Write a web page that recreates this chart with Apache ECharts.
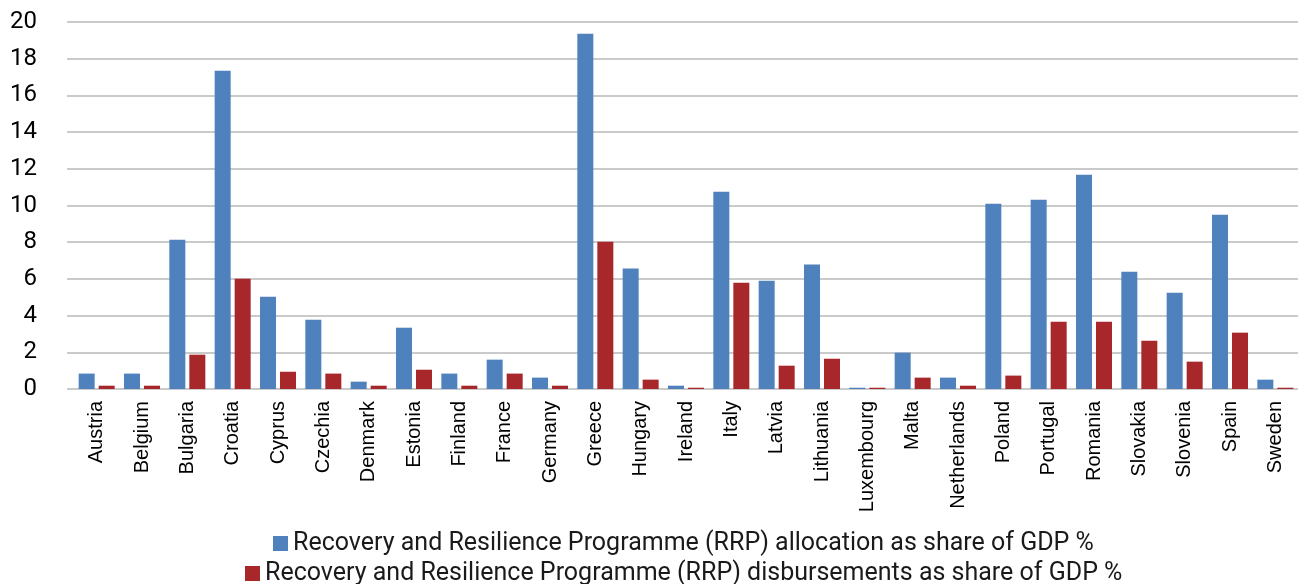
<!DOCTYPE html>
<html>
<head>
<meta charset="utf-8">
<script src="https://cdn.jsdelivr.net/npm/echarts@6/dist/echarts.min.js"></script>
<style>
html,body{margin:0;padding:0;background:#fff;}
#chart{width:1298px;height:584px;}
</style>
</head>
<body>
<div id="chart"></div>
<script>
const categories = ["Austria","Belgium","Bulgaria","Croatia","Cyprus","Czechia","Denmark","Estonia","Finland","France","Germany","Greece","Hungary","Ireland","Italy","Latvia","Lithuania","Luxembourg","Malta","Netherlands","Poland","Portugal","Romania","Slovakia","Slovenia","Spain","Sweden"];
const allocation = [0.84,0.84,8.14,17.35,5.03,3.78,0.40,3.34,0.84,1.60,0.62,19.36,6.56,0.18,10.75,5.90,6.78,0.07,1.98,0.62,10.10,10.32,11.68,6.39,5.25,9.50,0.51];
const disbursements = [0.18,0.18,1.87,6.01,0.94,0.84,0.18,1.05,0.18,0.84,0.18,8.03,0.51,0.07,5.79,1.27,1.65,0.07,0.62,0.18,0.73,3.67,3.67,2.63,1.49,3.07,0.07];
const seriesNames = ["Recovery and Resilience Programme (RRP) allocation as share of GDP %","Recovery and Resilience Programme (RRP) disbursements as share of GDP %"];
const yMin = 0, yMax = 20, yStep = 2;

const chart = echarts.init(document.getElementById('chart'), null, {renderer:'canvas'});
const font = 'Roboto';
const gridLine = {show:true, lineStyle:{color:'#b9b9b9', width:1.5}};
const legendText = {fontFamily:font, fontSize:25, color:'#1a1a1a'};
chart.setOption({
  animation:false,
  textStyle:{fontFamily:font},
  grid:[
    {left:67, right:0, top:22, height:367, containLabel:false},
    {left:74, width:1232, top:22, height:367, containLabel:false}
  ],
  legend:[
    {data:[seriesNames[0]], left:273, top:531, padding:0, itemWidth:15, itemHeight:15,
     icon:'rect', textStyle:legendText, selectedMode:false},
    {data:[seriesNames[1]], left:245, top:561, padding:0, itemWidth:15, itemHeight:15,
     icon:'rect', textStyle:legendText, selectedMode:false}
  ],
  xAxis:[
    {type:'value', gridIndex:0, show:false, min:0, max:1},
    {type:'category', gridIndex:1, data:categories,
     axisLine:{show:false}, axisTick:{show:false},
     axisLabel:{rotate:90, interval:0, margin:12, fontFamily:'Liberation Sans', fontSize:20, color:'#000'}}
  ],
  yAxis:[
    {type:'value', gridIndex:0, min:yMin, max:yMax, interval:yStep,
     axisLine:{show:false}, axisTick:{show:false}, splitLine:gridLine,
     axisLabel:{margin:30, fontFamily:font, fontSize:24, color:'#000'}},
    {type:'value', gridIndex:1, min:yMin, max:yMax, interval:yStep, show:false}
  ],
  series:[
    {name:seriesNames[0], type:'bar', xAxisIndex:1, yAxisIndex:1, data:allocation,
     barWidth:16, barGap:'25%', itemStyle:{color:'#4f81bd'}},
    {name:seriesNames[1], type:'bar', xAxisIndex:1, yAxisIndex:1, data:disbursements,
     barWidth:16, barGap:'25%', itemStyle:{color:'#a8272b'}}
  ]
});
</script>
</body>
</html>
